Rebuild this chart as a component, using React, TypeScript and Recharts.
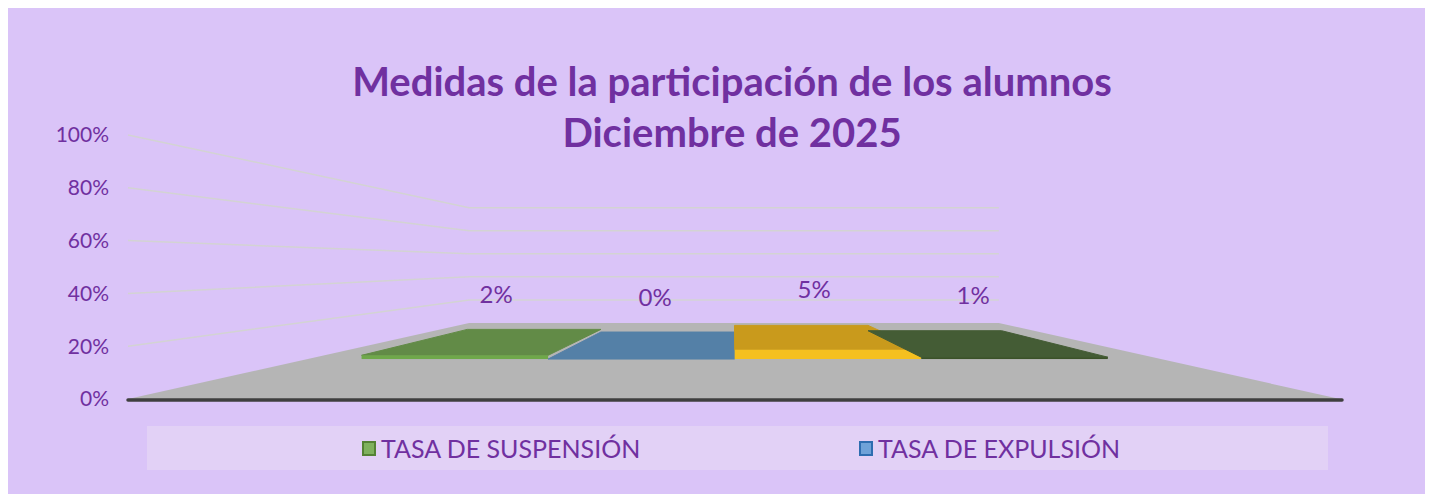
import React from "react";
import { Bar, BarChart, CartesianGrid, LabelList, XAxis, YAxis } from "recharts";

// chart values
const categories = ["Diciembre de 2025"];
const seriesNames = ["TASA DE SUSPENSIÓN", "TASA DE EXPULSIÓN", "SERIE 3", "SERIE 4"];
const suspension = [2];
const expulsion = [0];
const serie3 = [5];
const serie4 = [1];
const yTicks = [0, 20, 40, 60, 80, 100];
const legendSeries = [0, 1];

const seriesKeys = ["s1", "s2", "s3", "s4"];
const seriesValues = [suspension, expulsion, serie3, serie4];
const topColors = ["#628b47", "#5480a7", "#c99a1c", "#445c35"];
const frontColors = ["#6fa84a", "#5b8fc4", "#f5c01f", "#3b5229"];
const legendFill = ["#7fb15e", "#6fa2d8"];
const legendStroke = ["#548235", "#2e6db0"];

const data = categories.map((name, i) => {
  const row: Record<string, string | number> = { name };
  seriesKeys.forEach((k, j) => (row[k] = seriesValues[j][i]));
  return row;
});

const W = 1420;
const H = 486;
const MARGIN = { top: 127, right: 88, bottom: 95, left: 0 };
const YAXIS_W = 120;
const PLOT_LEFT = MARGIN.left + YAXIS_W;
const PLOT_RIGHT = W - MARGIN.right;
const PLOT_BOTTOM = H - MARGIN.bottom;
const VPX = (PLOT_LEFT + PLOT_RIGHT) / 2;
const VPY = PLOT_BOTTOM - 135;
const K_WALL = 0.437;
const K_BAR_FRONT = 0.704;
const K_BAR_BACK = 0.504;
const K_LABEL = 0.6;
const PURPLE = "#7030a0";
const FONT = "Lato, 'Open Sans', sans-serif";

const proj = (x: number, y: number, k: number) => [VPX + (x - VPX) * k, VPY + (y - VPY) * k];

// gridlines run along the left wall then across the back wall
const gridLine = (props: any) => {
  const { x1, y1, x2 } = props;
  const [bx0, by] = proj(x1, y1, K_WALL);
  const [bx1] = proj(x2, y1, K_WALL);
  if (Math.abs(y1 - PLOT_BOTTOM) < 1) {
    return (
      <g key={props.key}>
        <polygon
          points={`${x1},${y1} ${x2},${y1} ${bx1},${by} ${bx0},${by}`}
          fill="#b5b5b5"
        />
        <line x1={x1} y1={y1 + 1} x2={x2 + 2} y2={y1 + 1} stroke="#3f3f3f" strokeWidth={3.5} strokeLinecap="round" />
      </g>
    );
  }
  return (
    <polyline
      key={props.key}
      points={`${x1},${y1} ${bx0},${by} ${bx1},${by}`}
      fill="none"
      stroke="#d3d3d3"
      strokeWidth={1.5}
    />
  );
};

const makeSlab = (idx: number) => (props: any) => {
  const { x, y, width, height } = props;
  const base = y + (height || 0);
  const [fx0, fyTop] = proj(x, y, K_BAR_FRONT);
  const [fx1, fyBase] = proj(x + width, base, K_BAR_FRONT);
  const [bx0, byTop] = proj(x, y, K_BAR_BACK);
  const [bx1] = proj(x + width, y, K_BAR_BACK);
  return (
    <g>
      <polygon
        points={`${fx0},${fyTop} ${fx1},${fyTop} ${bx1},${byTop} ${bx0},${byTop}`}
        fill={topColors[idx]}
        stroke={topColors[idx]}
        strokeWidth={1}
      />
      {fyBase - fyTop > 0.5 && (
        <rect x={fx0} y={fyTop} width={fx1 - fx0} height={fyBase - fyTop} fill={frontColors[idx]} />
      )}
    </g>
  );
};

const renderLabel = (props: any) => {
  const { x, y, width, value } = props;
  const [lx, ly] = proj(x + width / 2, y, K_LABEL);
  return (
    <text
      x={lx}
      y={ly - 45}
      textAnchor="middle"
      dominantBaseline="middle"
      fill={PURPLE}
      fontSize={24}
      fontFamily={FONT}
    >
      {`${value}%`}
    </text>
  );
};

export default function App() {
  return (
    <div style={{ position: "relative", width: W, height: H, background: "#dac4f8", fontFamily: FONT }}>
      <div
        style={{
          position: "absolute",
          left: 274,
          top: 48,
          width: 900,
          textAlign: "center",
          color: PURPLE,
          fontWeight: 700,
          fontSize: 40,
          lineHeight: "51px",
        }}
      >
        Medidas de la participación de los alumnos
        <br />
        {categories[0]}
      </div>
      <BarChart
        width={W}
        height={H}
        data={data}
        margin={MARGIN}
        barCategoryGap="6.35%"
        barGap={0}
        style={{ position: "absolute", left: 0, top: 0 }}
      >
        <CartesianGrid vertical={false} horizontal={gridLine} />
        <XAxis dataKey="name" hide />
        <YAxis
          width={YAXIS_W}
          domain={[0, 100]}
          ticks={yTicks}
          tickFormatter={(v) => `${v}%`}
          axisLine={false}
          tickLine={false}
          tickMargin={13}
          tick={{ fill: PURPLE, fontSize: 21, fontFamily: FONT }}
        />
        {seriesKeys.map((k, i) => (
          <Bar
            key={k}
            dataKey={k}
            name={seriesNames[i]}
            fill={topColors[i]}
            shape={makeSlab(i)}
            isAnimationActive={false}
          >
            <LabelList dataKey={k} content={renderLabel} />
          </Bar>
        ))}
      </BarChart>
      <div
        style={{
          position: "absolute",
          left: 139,
          top: 418,
          width: 1181,
          height: 44,
          background: "#e2d1f6",
        }}
      >
        {legendSeries.map((s, i) => (
          <div
            key={s}
            style={{
              position: "absolute",
              left: i === 0 ? 215 : 712,
              top: 0,
              height: 44,
              display: "flex",
              alignItems: "center",
              color: PURPLE,
              fontSize: 25,
              whiteSpace: "nowrap",
            }}
          >
            <span
              style={{
                display: "inline-block",
                width: 10,
                height: 11,
                background: legendFill[i],
                border: `2px solid ${legendStroke[i]}`,
                marginRight: 5,
              }}
            />
            {seriesNames[s]}
          </div>
        ))}
      </div>
    </div>
  );
}
